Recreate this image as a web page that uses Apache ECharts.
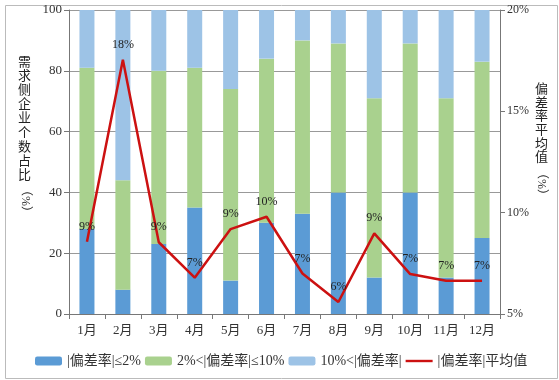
<!DOCTYPE html>
<html><head><meta charset="utf-8">
<script src="https://cdn.jsdelivr.net/npm/echarts@6/dist/echarts.min.js"></script>
<style>html,body{margin:0;padding:0;background:#fff}#c{width:559px;height:380px}</style>
</head><body><div id="c"></div>
<script>
var months = ['1月','2月','3月','4月','5月','6月','7月','8月','9月','10月','11月','12月'];
var low  = [28, 8, 23, 35, 11, 30, 33, 40, 12, 40, 12, 25];
var mid  = [53, 36, 57, 46, 63, 54, 57, 49, 59, 49, 59, 58];
var high = [19, 56, 20, 19, 26, 16, 10, 11, 29, 11, 29, 17];
var avgDev = [8.57, 17.55, 8.54, 6.79, 9.19, 9.8, 7.0, 5.59, 8.98, 6.97, 6.64, 6.64];
var leftTicks = [0, 20, 40, 60, 80, 100];
var rightTicks = [5, 10, 15, 20];
var seriesNames = ['|偏差率|≤2%', '2%<|偏差率|≤10%', '10%<|偏差率|', '|偏差率|平均值'];
var leftName = '需求侧企业个数占比';
var rightName = '偏差率平均值';

var FF = "'Liberation Serif','Noto Sans CJK SC',serif";
var chart = echarts.init(document.getElementById('c'), null, {renderer:'canvas'});
function vert(s){ return s.split('').join('\n'); }
chart.setOption({
  animation: false,
  textStyle: {fontFamily: FF},
  grid: {left: 69, right: 59, top: 10, bottom: 66},
  legend: {
    left: 30, top: 349, itemWidth: 27, itemHeight: 9, itemGap: 4,
    textStyle: {fontFamily: FF, fontSize: 14, color: '#333'},
    data: [seriesNames[0], seriesNames[1], seriesNames[2],
      {name: seriesNames[3], icon: 'path://M0 0 L27 0 L27 2.4 L0 2.4 Z'}]
  },
  xAxis: {
    type: 'category', data: months,
    axisLine: {lineStyle: {color: '#777'}},
    axisTick: {show: true, lineStyle: {color: '#777'}, length: 5},
    axisLabel: {fontFamily: FF, fontSize: 13, color: '#333', margin: 10}
  },
  yAxis: [{
    type: 'value', min: leftTicks[0], max: leftTicks[leftTicks.length-1], interval: 20,
    axisLine: {show: true, lineStyle: {color: '#777'}},
    axisTick: {show: true, lineStyle: {color: '#777'}, length: 5},
    axisLabel: {fontFamily: FF, fontSize: 13, color: '#333', margin: 7},
    splitLine: {lineStyle: {color: '#999'}}
  }, {
    type: 'value', min: rightTicks[0], max: rightTicks[rightTicks.length-1], interval: 5,
    axisLine: {show: true, lineStyle: {color: '#777'}},
    axisTick: {show: true, lineStyle: {color: '#777'}, length: 5},
    axisLabel: {fontFamily: FF, fontSize: 12, color: '#333', margin: 7, formatter: '{value}%'},
    splitLine: {show: false}
  }],
  graphic: [
    {type: 'rect', left: 3, top: 3, shape: {width: 552, height: 373}, style: {fill: 'none', stroke: '#bbb', lineWidth: 1}, silent: true},
    {type: 'text', left: 18, top: 55, style: {text: vert(leftName), font: '13px ' + FF, fill: '#222', lineHeight: 14.2}},
    {type: 'text', x: 25, y: 201, rotation: -Math.PI/2, style: {text: '（%）', font: '12px ' + FF, fill: '#222', align: 'center', verticalAlign: 'middle'}},
    {type: 'text', left: 535, top: 83, style: {text: vert(rightName), font: '13px ' + FF, fill: '#222', lineHeight: 13.6}},
    {type: 'text', x: 541, y: 184, rotation: -Math.PI/2, style: {text: '（%）', font: '12px ' + FF, fill: '#222', align: 'center', verticalAlign: 'middle'}}
  ],
  series: [
    {name: seriesNames[0], type: 'bar', stack: 's', data: low, barWidth: 15, itemStyle: {color: '#5b9bd5'}},
    {name: seriesNames[1], type: 'bar', stack: 's', data: mid, barWidth: 15, itemStyle: {color: '#a9d18e'}},
    {name: seriesNames[2], type: 'bar', stack: 's', data: high, barWidth: 15, itemStyle: {color: '#9dc3e6'}},
    {name: seriesNames[3], type: 'line', yAxisIndex: 1, data: avgDev, symbol: 'circle', symbolSize: 0.1, showSymbol: true, z: 5,
     lineStyle: {color: '#cc1111', width: 2.5}, itemStyle: {color: '#cc1111'},
     label: {show: true, position: 'top', distance: 9, fontFamily: FF, fontSize: 12, color: '#222',
       formatter: function(p){ return Math.round(p.value) + '%'; }}}
  ]
});
</script></body></html>
